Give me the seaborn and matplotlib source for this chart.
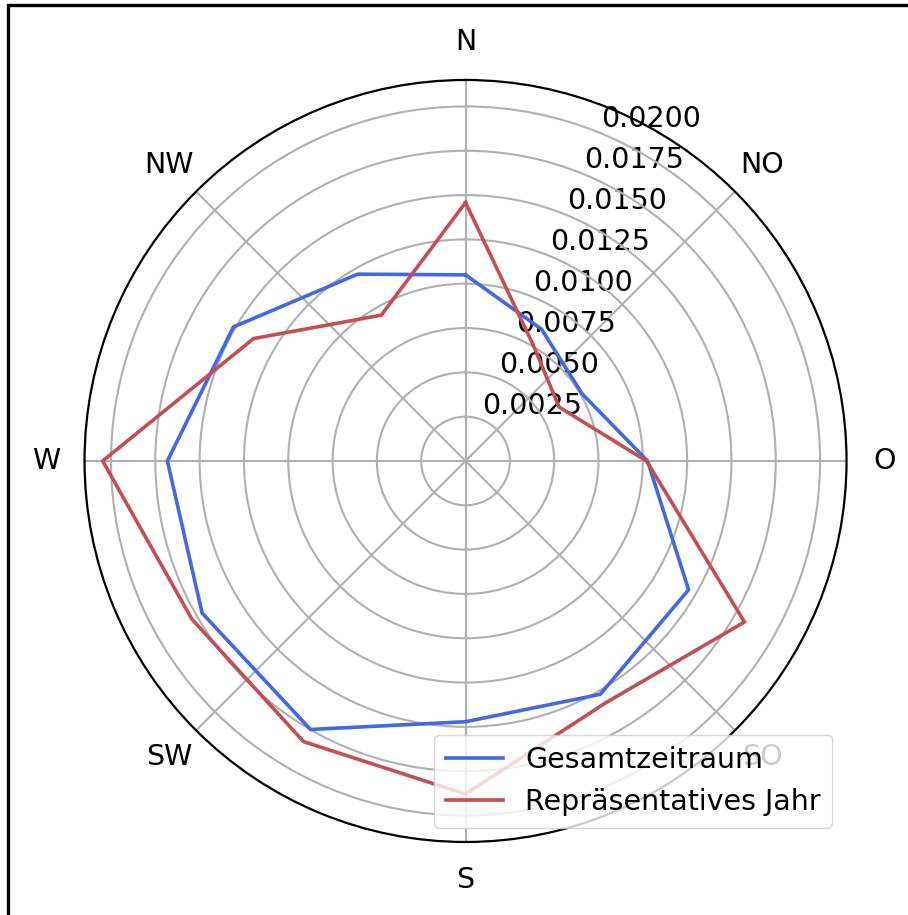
import numpy as np
import pandas as pd
import matplotlib
matplotlib.use("Agg")
import matplotlib.pyplot as plt
from matplotlib.patches import Rectangle
import seaborn as sns

# ---- data (12 sectors, 30 degree steps, clockwise from north) ----
angles_deg = [0, 30, 60, 90, 120, 150, 180, 210, 240, 270, 300, 330]
gesamt = [0.01050, 0.00858, 0.00759, 0.01027, 0.01453, 0.01520,
          0.01471, 0.01749, 0.01716, 0.01682, 0.01512, 0.01217]
repr_jahr = [0.01458, 0.00760, 0.00609, 0.01021, 0.01817, 0.01577,
             0.01879, 0.01828, 0.01783, 0.02047, 0.01381, 0.00950]
series_names = ["Gesamtzeitraum", "Repräsentatives Jahr"]
dir_ticks_deg = [0, 45, 90, 135, 180, 225, 270, 315]
dir_labels = ["N", "NO", "O", "SO", "S", "SW", "W", "NW"]
r_ticks = [0.0025, 0.0050, 0.0075, 0.0100, 0.0125, 0.0150, 0.0175, 0.0200]
r_tick_labels = ["0.0025", "0.0050", "0.0075", "0.0100", "0.0125", "0.0150", "0.0175", "0.0200"]

# closed polygons
rows = []
for name, vals in zip(series_names, [gesamt, repr_jahr]):
    th = np.deg2rad(angles_deg + [360])
    rr = list(vals) + [vals[0]]
    for order, (t, r) in enumerate(zip(th, rr)):
        rows.append({"theta": t, "r": r, "Reihe": name, "order": order})
df = pd.DataFrame(rows)

plt.rcParams["font.family"] = ["DejaVu Sans"]
fs = 20.5

fig = plt.figure(figsize=(9.08, 9.15), dpi=100)
ax = fig.add_axes([0.0931, 0.0798, 0.8392, 0.8328], projection="polar")
ax.set_theta_zero_location("N")
ax.set_theta_direction(-1)

palette = {"Gesamtzeitraum": "#4169E1", "Repräsentatives Jahr": "#C44E52"}
sns.lineplot(data=df, x="theta", y="r", hue="Reihe", palette=palette,
             sort=False, estimator=None, units=None, linewidth=2.6, ax=ax)

rmax = max(max(gesamt), max(repr_jahr)) * 1.05
ax.set_ylim(0, rmax)
ax.set_xticks(np.deg2rad(dir_ticks_deg))
ax.set_xticklabels(dir_labels, fontsize=fs)
ax.set_yticks(r_ticks)
ax.set_yticklabels(r_tick_labels, fontsize=fs)
ax.set_rlabel_position(22.5)
ax.tick_params(axis="x", pad=17)
ax.set_xlabel("")
ax.set_ylabel("")
ax.grid(True, color="#b0b0b0", linewidth=1.5)
ax.spines["polar"].set_linewidth(1.6)
ax.spines["polar"].set_color("black")

leg = ax.legend(loc="lower right", fontsize=fs, title=None)

fig.add_artist(Rectangle((8 / 908, -0.1), 1.5, 1.1 - 5 / 915,
                         transform=fig.transFigure, fill=False,
                         edgecolor="black", linewidth=2.4))

fig.savefig("out.png", dpi=100, facecolor="white")
